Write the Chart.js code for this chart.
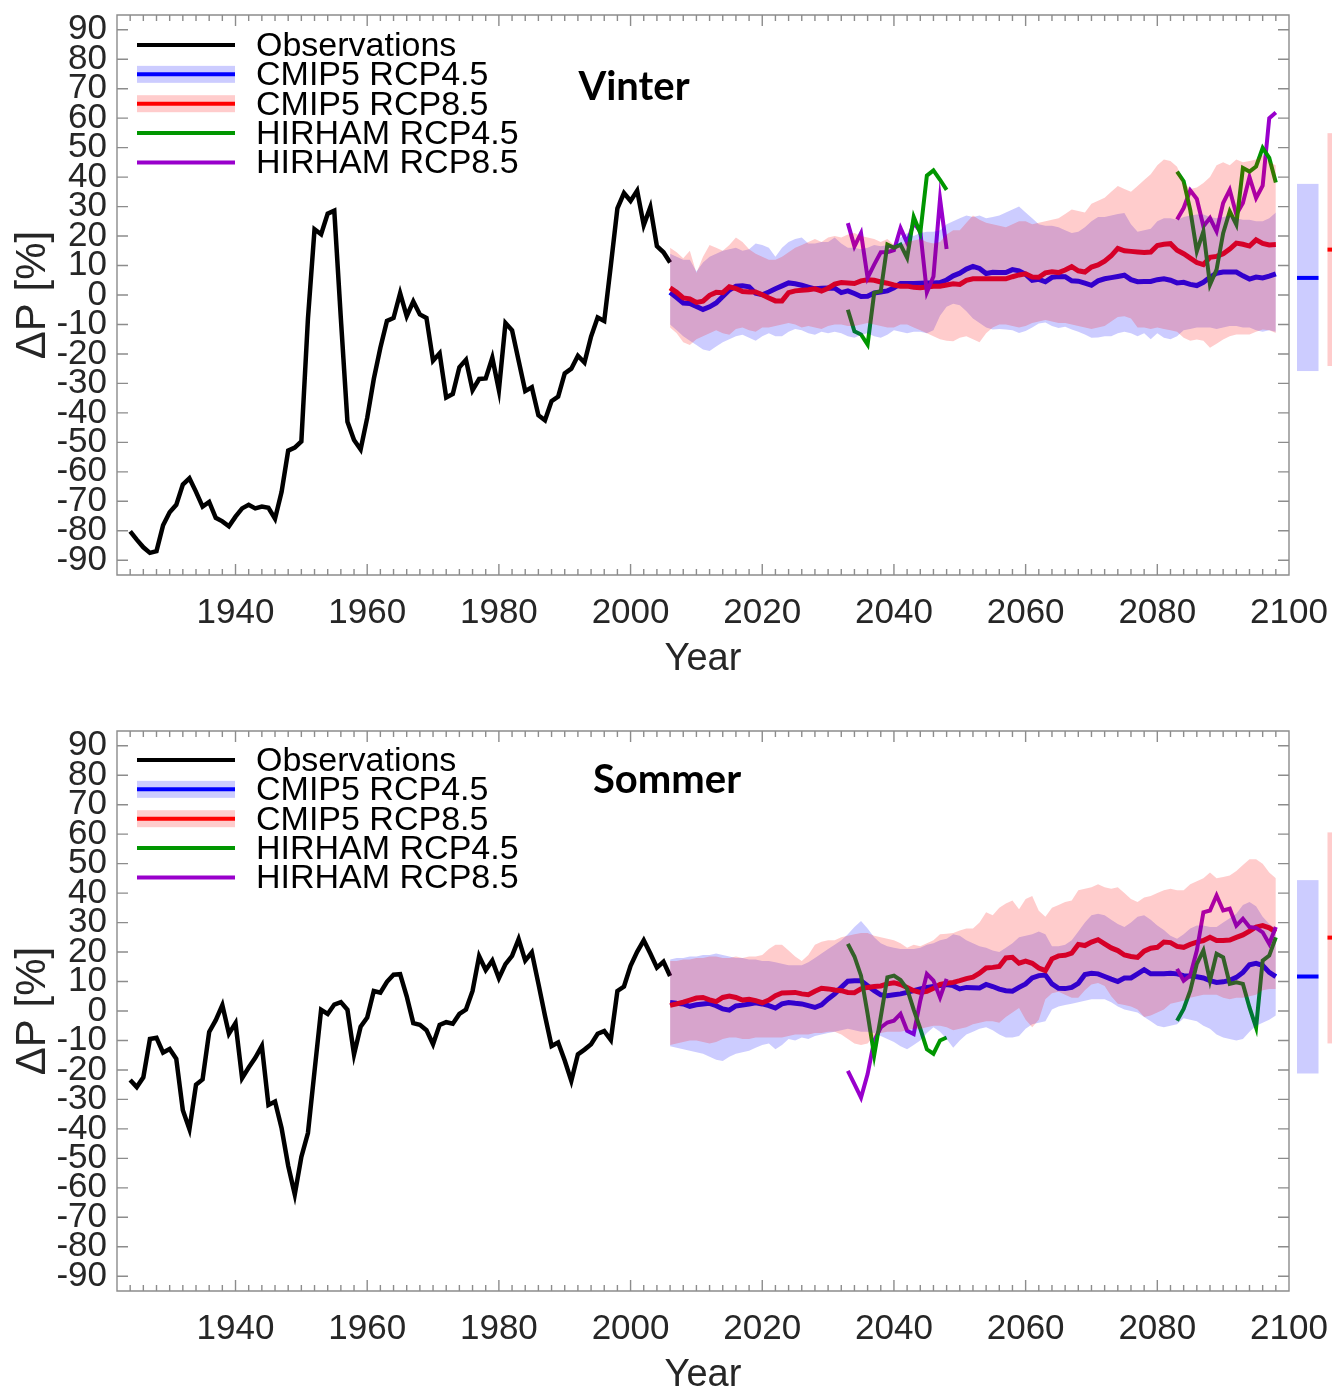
<!DOCTYPE html>
<html>
<head>
<meta charset="utf-8">
<script src="https://cdn.jsdelivr.net/npm/chart.js"></script>
<style>
html,body{margin:0;padding:0;background:#ffffff;}
#wrap{position:relative;width:1332px;height:1389px;overflow:hidden;}
.panel{position:absolute;left:0;width:1332px;height:695px;}
</style>
</head>
<body>
<div id="wrap">
  <div class="panel" style="top:0px"><canvas id="cVinter" width="1332" height="695"></canvas></div>
  <div class="panel" style="top:716px"><canvas id="cSommer" width="1332" height="695"></canvas></div>
</div>
<script>
// ---------- categories / ticks ----------
const OBS_START = 1924;     // observations: 1924..2006
const PROJ_START = 2006;    // CMIP5 ensemble: 2006..2098
const HIR_A_START = 2033;   // HIRHAM window 1: 2033..2048
const HIR_B_START = 2083;   // HIRHAM window 2: 2083..2098
const X_TICKS = [1940, 1960, 1980, 2000, 2020, 2040, 2060, 2080, 2100];
const Y_TICKS = [-90, -80, -70, -60, -50, -40, -30, -20, -10, 0, 10, 20, 30, 40, 50, 60, 70, 80, 90];
const LEGEND_LABELS = ['Observations', 'CMIP5 RCP4.5', 'CMIP5 RCP8.5', 'HIRHAM RCP4.5', 'HIRHAM RCP8.5'];
const Y_TITLE = 'ΔP [%]';
const X_TITLE = 'Year';

// ---------- Vinter ----------
const VIN_OBS = [-80.2,-83,-85.6,-87.5,-86.9,-78.1,-73.7,-71.2,-64.3,-62.2,
 -66.8,-71.8,-70.2,-75.6,-76.8,-78.5,-75.2,-72.4,-71.2,-72.4,
 -71.8,-72.2,-75.9,-66.8,-52.8,-51.8,-49.7,-8,22.3,20.6,
 27.6,28.6,-8,-43,-49.2,-52.4,-41.7,-28.5,-17.9,-8.8,
 -7.8,0.6,-7.2,-2.2,-6.6,-7.8,-22.3,-19.8,-34.8,-33.6,
 -24.5,-22,-32.3,-28.5,-28.3,-21.3,-32.3,-9.5,-12,-22.3,
 -32.6,-31.3,-40.8,-42.5,-36,-34.5,-26.6,-25,-20.6,-22.9,
 -14.1,-7.6,-8.8,10,29.4,34.6,31.9,35.4,23.7,29.8,
 16.6,14.5,11];
const VIN_M45 = [0.9,-0.9,-2.7,-2.9,-3.9,-4.9,-4.0,-2.7,-0.5,1.7,
 3.0,3.1,2.8,0.6,0.1,1.0,2.1,3.1,4.1,3.8,
 3.3,2.7,2.1,2.3,2.4,2.3,0.8,1.4,0.5,-0.5,
 -0.4,0.7,1.0,1.4,2.4,3.9,3.9,3.9,4.0,4.1,
 4.1,4.2,5.1,6.5,7.4,8.8,9.7,9.0,7.3,7.7,
 7.6,7.6,8.6,8.2,7.0,5.0,5.3,4.5,6.0,6.3,
 6.2,4.8,4.7,4.0,3.3,4.8,5.5,5.9,6.3,6.7,
 5.2,4.5,4.6,4.6,5.2,5.5,5.0,4.1,4.3,3.6,
 3.2,4.3,6.0,7.4,7.8,7.8,7.8,6.5,5.4,6.1,
 5.8,6.4,7.2];
const VIN_M85 = [2.4,0.9,-1.0,-1.3,-2.5,-2.1,-0.1,0.9,0.8,2.8,
 2.2,1.2,1.0,1.0,0.1,-1.0,-2.0,-2.0,0.8,1.4,
 1.6,1.8,2.1,1.3,2.3,3.7,4.2,4.1,3.9,4.8,
 5.2,5.0,4.4,4.0,3.4,3.0,3.0,2.6,2.5,2.7,
 3.0,3.0,3.4,3.8,3.6,5.0,5.5,5.5,5.5,5.5,
 5.5,5.5,6.2,6.8,7.2,6.1,6.0,7.5,7.9,7.6,
 8.5,9.6,8.2,7.8,9.5,10.2,11.5,13.3,15.8,15.0,
 14.8,14.6,14.4,14.6,16.8,17.2,17.4,15.2,14.0,12.5,
 11.0,10.3,12.8,13.1,14.0,15.6,17.6,17.2,16.6,18.7,
 17.5,17.0,17.1];
const VIN_HI45 = [14,13,12,12,8,11,13,14,15,15.5,
 16,15,15.5,17.5,17,16,13,16,18,19,
 19.5,17.5,17.5,18,18,19.5,17.5,16,16,15.5,
 16,17,16.5,17,17,19.5,21,20,21,21.5,
 21.5,22,24,25,26,27,26.5,27,26,26.5,
 27,28,29,30,28,26,24,23.5,23.5,23,
 22,21,21.5,23,25,26.5,26.5,27,27.5,27.8,
 24,21.5,22,22.5,25,26,26,25.5,26.5,27,
 27.3,27.3,26.5,26,26.5,27,26,25.5,25.5,25,
 25,26,28];
const VIN_LO45 = [-10,-12,-14,-15.5,-17,-18.5,-19,-17.5,-16,-15,
 -14,-13.5,-14.5,-15.5,-14,-13,-14,-14,-12.5,-11.5,
 -12,-13,-13.5,-12.5,-13,-12.5,-13,-14,-14.5,-13.5,
 -13,-14,-14.5,-13.5,-12,-12.5,-13,-12.5,-12.5,-13,
 -12,-7,-4,-3,-3.5,-5.5,-8,-9.5,-11,-11.7,
 -11.5,-11.7,-12,-12.9,-12.2,-11,-9.7,-9.3,-10.5,-11.2,
 -10.8,-11.7,-12.5,-13.4,-14.5,-14.4,-14,-14,-13,-12.5,
 -13,-14,-13,-15,-13,-14.5,-15,-14,-12,-11.5,
 -11,-11,-11,-11.5,-11,-10.5,-10.5,-11,-11,-12,
 -12.5,-12,-12.5];
const VIN_HI85 = [16,14.5,12.5,15,7.5,13,17,16,15,17,
 19.5,18,15.5,14,13,12,12,13,14.5,16,
 17,18,19,18,19.5,20,19.5,20.5,21,20,
 19.5,19,18,19,17,17,18,18.5,19,18,
 17.5,18,20.5,22,22,24.5,27,25.5,24.5,24,
 23.5,23,24,25,25,24,24.5,25,25.5,26,
 27.5,29,28.5,28,31,32,33,35,37,36,
 35,37,39,41,44,46,45.5,43.5,38,36,
 36.5,38,40,44,45,44,46,45,45.5,46,
 47.5,45,44];
const VIN_LO85 = [-11,-13,-16,-17,-15,-14,-13,-12,-13,-13.5,
 -11.5,-11,-12,-12.5,-11,-11,-10.5,-10,-9.5,-10,
 -11,-10.5,-11,-11.5,-10.5,-10,-10,-10.5,-10.5,-10,
 -9.5,-10,-10.5,-11,-11,-10,-10,-11,-12,-13,
 -14,-15,-15.5,-15.7,-14.5,-14,-15,-16,-13,-11,
 -10,-10,-10.5,-11,-10.5,-9.5,-9,-8.5,-9,-9.5,
 -9.5,-10,-10.5,-11,-11.5,-11,-10.5,-9,-7.5,-7.2,
 -8,-11,-11,-11.5,-11,-11.5,-12,-12.5,-14.5,-15.5,
 -15.1,-15.5,-17.9,-16.5,-15.1,-14,-13.4,-13.4,-13.4,-12.5,
 -11.7,-12,-12.9];
const VIN_H45_A = [-5,-12.3,-13.4,-16.8,0.7,1.3,17.1,16,17.1,12.6,26.5,21,40.5,42.3,39.1,35.7];
const VIN_H85_A = [24.4,16.5,21,5.8,10.3,14.5,14.5,15.2,22.7,17.7,24.4,21.6,0.9,6.3,32.6,15.6];
const VIN_H45_B = [41.9,38.6,28.9,14.8,21.6,3.5,8.6,21,28.4,23.9,43.1,41.9,43.6,49.9,46.5,38.2];
const VIN_H85_B = [25.6,29.5,35.5,32.6,23.3,26.1,21.6,31.2,35.7,27.3,31.2,40,32.9,37.1,60,61.9];
const VIN_BAR45 = [-25.8, 5.8, 37.7];   // low, median, high
const VIN_BAR85 = [-24.1, 15.4, 54.9];

// ---------- Sommer ----------
const SOM_OBS = [-23.4,-25.8,-22.5,-9.5,-9.1,-14.1,-12.9,-16.2,-33.7,-40.1,
 -25,-23.2,-7.1,-3.1,2,-7.7,-4.1,-22.8,-19.2,-15.9,
 -11.9,-31.9,-30.7,-39.8,-52.5,-62.2,-49.5,-41.4,-20.4,0.4,
 -1,2.2,3,0.4,-14.7,-5.3,-2.2,6.8,6.2,9.9,
 12.3,12.5,5,-4.1,-4.7,-6.5,-11.3,-4.7,-3.8,-4.3,
 -1,0.5,6.8,18.6,13.9,17.1,11.1,15.9,18.7,24.4,
 17.1,19.9,9.3,-1.6,-11.9,-10.7,-16.8,-23.7,-14.7,-13.1,
 -11.3,-7.7,-6.8,-9.8,6.8,8.3,15.3,20.1,24,19.5,
 14.7,16.7,11.9];
const SOM_M45 = [2.9,2.6,2.4,1.6,2.1,2.4,2.6,1.8,0.7,0.3,
 1.7,2.0,2.4,2.8,2.4,1.8,1.0,2.4,2.9,2.6,
 2.4,1.8,1.2,2.1,4.1,5.8,8.0,10.1,10.3,10.3,
 8.6,6.9,5.5,5.2,5.5,5.8,6.3,6.9,7.5,8.0,
 8.3,8.6,9.0,8.6,7.5,8.0,7.9,7.8,9.0,8.3,
 7.4,6.9,6.7,8.0,9.2,11.2,12.0,12.2,9.2,7.7,
 7.6,8.0,9.4,12.4,12.8,12.6,11.7,10.8,10.0,11.2,
 11.2,12.6,14.0,12.6,12.6,12.6,12.8,12.6,12.0,11.9,
 11.6,11.2,10.3,9.7,9.9,10.4,11.4,13.1,15.7,16.2,
 15.5,13.1,11.7];
const SOM_M85 = [1.9,2.4,3.0,3.7,4.4,4.6,3.8,3.2,4.6,5.1,
 4.6,3.7,4.0,3.5,2.8,3.7,5.2,6.1,6.2,6.3,
 5.8,5.5,6.7,7.7,7.5,7.1,6.9,6.3,6.2,7.5,
 8.0,8.3,8.5,9.2,9.6,9.0,8.0,6.9,6.3,6.7,
 7.7,9.0,9.4,9.7,10.3,11.0,11.5,12.8,14.6,14.8,
 15.1,18.0,18.2,16.2,16.9,16.2,14.6,13.7,17.7,18.7,
 18.9,19.6,22.6,22.2,23.4,24.2,22.8,21.4,20.5,19.0,
 18.5,18.2,20.3,21.3,21.6,23.4,23.2,21.9,21.6,22.6,
 23.4,23.9,25.0,23.9,23.9,24.1,25.0,25.8,27.1,28.5,
 29.0,28.2,26.8];
const SOM_HI45 = [17.5,18,18,18.5,18.5,19,19,19.5,19,18.5,
 18,18,17.5,17.5,17,17,16.5,16,15.5,15.5,
 15.5,16.5,18,19.5,21,22.5,24,26,28.5,30.5,
 28,25,23,22,21.5,21,21,21,21.5,22.5,
 23,24,24.5,26,25.5,24,23,22,21.5,20.5,
 20,21.5,23,25,25.5,26,27,26,22,22,
 22.5,24,27,30,32.5,33,32.5,31,29.5,28.5,
 30,32,32.5,31,29,27.5,25.5,24.5,26,28,
 29,29,28.5,28.5,30,31.5,33,36,37,35.5,
 32,29.5,28];
const SOM_LO45 = [-12,-12.5,-13,-13.5,-14,-14.5,-15.5,-16.5,-17,-15.5,
 -14.5,-14,-13.5,-12.5,-11.5,-11,-13,-11.5,-9.5,-10,
 -9,-9.5,-8.5,-8,-7.5,-7,-6.5,-6,-6.5,-7,
 -7,-7.5,-8.5,-9.5,-10.5,-12,-13,-11.5,-10,-7.5,
 -5.5,-7,-9.5,-12.5,-10,-8,-7,-6,-5.5,-6.5,
 -8,-9,-9,-8.5,-6,-4.5,-4,-3.5,0.5,1.5,
 2,2.5,3,3.5,4,4,4,3,1.5,0.5,
 0,-0.5,-2,-3.5,-5,-5.5,-5,-4.5,-2.5,-3,
 -3.5,-5,-6,-8,-9,-9.5,-10,-9.5,-7,-5,
 -4,-3,-1.5];
const SOM_HI85 = [17,17,17.5,17.5,18,18,18.5,18.5,18,18,
 18.5,18,18.5,18.5,19,21,22.5,22.5,20.5,18.5,
 17,19,22.5,23.5,24,24,25,25.5,26,26.5,
 26.5,25.5,25,24.5,24,23,21.5,22.5,22,23,
 24,26,26.2,26.5,27.3,28,28,30,33.5,32.5,
 35,36.5,37.5,34.5,38,39,34,32,35,36,
 37,37.5,41,41.5,42,43,42,41.5,42,40,
 38,37,38.5,39,40,41,41.5,41,41,43,
 44,45,47,45,45.5,46,47.5,49.5,51.5,51.5,
 50,47,45];
const SOM_LO85 = [-11.5,-11,-10.5,-10,-10,-10.5,-11,-10.5,-9.5,-9,
 -9,-9.5,-9.5,-9,-9,-9,-9,-9,-8.5,-8,
 -8,-8,-7.5,-7.5,-7,-7,-8,-9.5,-11,-11.5,
 -11,-8.5,-7.5,-7,-7,-7,-6.5,-6,-6,-5.5,
 -5,-5,-5.5,-6.5,-6,-5.5,-4.5,-4,-3.5,-3.5,
 -4,-2,-0.5,1,-3,-5.5,-3,4,6,6.5,
 5.5,4.5,4.5,7,9,9.5,8.5,5,2.5,2,
 1.5,0.5,-2,-1.5,-0.5,0.5,2.5,3,3.5,4.5,
 5,5.5,5.5,5.5,4.5,4,4.5,4.5,5,5.5,
 7,7.5,7.5];
const SOM_H45_A = [22.8,18.5,12,-1,-15,-2,11.4,12,10.5,7.5,0.5,-6,-13,-14.5,-10,-9];
const SOM_H85_A = [-20.3,-24.8,-29.4,-21.4,-10.1,-5.6,-3.9,-3.3,-1,-6.7,-7.8,3.5,12.6,10.3,4.6,10.9];
const SOM_H45_B = [-3.3,0.7,6.9,16,20.5,10.3,19.4,18.2,9.2,9.7,9.2,1.2,-5.6,17.1,18.8,25];
const SOM_H85_B = [14.3,10.3,12,20.5,33.5,34.1,39.2,34.1,34.7,29,31.3,28.5,28.2,26.7,22.8,28.5];
const SOM_BAR45 = [-21.2, 11.7, 44.4];
const SOM_BAR85 = [-11, 24.9, 60.6];

// ---------- styles ----------
const C_OBS = '#000000', C_45 = '#0000ff', C_85 = '#ff0000', C_H45 = '#009600', C_H85 = '#9900cc';
const BAND_45 = 'rgba(0,0,255,0.2)', BAND_85 = 'rgba(255,0,0,0.2)';
const BAR_FILL_45 = '#ccccff', BAR_FILL_85 = '#ffcccc';
const AXIS_COLOR = '#8c8c8c', TEXT_COLOR = '#262626';
const FONT = 'Liberation Sans';

Chart.defaults.font.family = FONT;

const decorPlugin = {
  id: 'decor',
  afterDatasetsDraw(chart, args, o) {
    const {ctx, chartArea: a, scales: {x, y}} = chart;
    ctx.save();
    // box + inward ticks
    ctx.strokeStyle = AXIS_COLOR;
    ctx.lineWidth = 1.4;
    ctx.beginPath();
    ctx.rect(a.left, a.top, a.right - a.left, a.bottom - a.top);
    const MAJ = 11, MIN = 6;
    for (let v = OBS_START; v < x.max; v += 2) {
      const p = x.getPixelForValue(v);
      const len = X_TICKS.includes(v) ? MAJ : MIN;
      ctx.moveTo(p, a.bottom); ctx.lineTo(p, a.bottom - len);
      ctx.moveTo(p, a.top); ctx.lineTo(p, a.top + len);
    }
    for (const v of X_TICKS) {
      const p = x.getPixelForValue(v);
      ctx.moveTo(p, a.bottom); ctx.lineTo(p, a.bottom - MAJ);
      ctx.moveTo(p, a.top); ctx.lineTo(p, a.top + MAJ);
    }
    for (const v of Y_TICKS) {
      const p = y.getPixelForValue(v);
      ctx.moveTo(a.left, p); ctx.lineTo(a.left + MAJ, p);
      ctx.moveTo(a.right, p); ctx.lineTo(a.right - MAJ, p);
    }
    ctx.stroke();

    // side range bars (outside plot area)
    const bars = [[o.bar45, BAR_FILL_45, C_45, 8], [o.bar85, BAR_FILL_85, C_85, 38.5]];
    for (const [b, fill, med, dx] of bars) {
      const yLo = y.getPixelForValue(b[0]), yMed = y.getPixelForValue(b[1]), yHi = y.getPixelForValue(b[2]);
      ctx.fillStyle = fill;
      ctx.fillRect(a.right + dx, yHi, 21.5, yLo - yHi);
      ctx.fillStyle = med;
      ctx.fillRect(a.right + dx, yMed - 2, 21.5, 4);
    }

    // legend
    const colors = [C_OBS, C_45, C_85, C_H45, C_H85];
    const bands = [null, BAND_45, BAND_85, null, null];
    const x1 = a.left + 20, x2 = a.left + 118;
    ctx.font = '34px "' + FONT + '"';
    ctx.textBaseline = 'middle';
    ctx.textAlign = 'left';
    LEGEND_LABELS.forEach((lab, i) => {
      const ly = o.legendY + i * 29.35;
      if (bands[i]) { ctx.fillStyle = bands[i]; ctx.fillRect(x1, ly - 8.5, x2 - x1, 17); }
      ctx.strokeStyle = colors[i];
      ctx.lineWidth = 4;
      ctx.beginPath(); ctx.moveTo(x1, ly); ctx.lineTo(x2, ly); ctx.stroke();
      ctx.fillStyle = '#000000';
      ctx.fillText(lab, a.left + 139, ly + 1.5);
    });

    // season title
    ctx.font = 'bold 40px Lato';
    ctx.textAlign = 'center';
    ctx.fillStyle = '#000000';
    ctx.fillText(o.title, o.titleX, o.titleY);
    ctx.restore();
  }
};

function noPad(s) { s.paddingTop = 0; s.paddingBottom = 0; s.paddingLeft = 0; s.paddingRight = 0; }

function buildChart(id, d) {
  const pts = (start, arr) => arr.map((v, i) => ({x: start + i, y: v}));
  const line = (label, data, color, width) => ({
    label, data, borderColor: color, borderWidth: width, pointRadius: 0,
    fill: false, tension: 0, order: 3, borderJoinStyle: 'miter'
  });
  const edge = (label, data, fill, bg, order) => ({
    label, data, borderColor: 'rgba(0,0,0,0)', borderWidth: 0, pointRadius: 0,
    fill: fill, backgroundColor: bg, tension: 0, order
  });
  const datasets = [
    line('Observations', pts(OBS_START, d.obs), C_OBS, 4.5),
    line('HIRHAM RCP4.5', pts(HIR_A_START, d.h45a), C_H45, 4),
    line('HIRHAM RCP4.5 ', pts(HIR_B_START, d.h45b), C_H45, 4),
    line('HIRHAM RCP8.5', pts(HIR_A_START, d.h85a), C_H85, 4),
    line('HIRHAM RCP8.5 ', pts(HIR_B_START, d.h85b), C_H85, 4),
    line('CMIP5 RCP8.5', pts(PROJ_START, d.m85), C_85, 5),
    line('CMIP5 RCP4.5', pts(PROJ_START, d.m45), C_45, 5),
    edge('RCP4.5 low', pts(PROJ_START, d.lo45), false, 'rgba(0,0,0,0)', 2),
    edge('RCP4.5 high', pts(PROJ_START, d.hi45), '-1', BAND_45, 2),
    edge('RCP8.5 low', pts(PROJ_START, d.lo85), false, 'rgba(0,0,0,0)', 1),
    edge('RCP8.5 high', pts(PROJ_START, d.hi85), '-1', BAND_85, 1)
  ];
  const tickFont = {family: FONT, size: 35};
  return new Chart(document.getElementById(id), {
    type: 'line',
    data: {datasets},
    options: {
      responsive: false, animation: false, devicePixelRatio: 1,
      layout: {padding: {top: 15, right: 43, left: 0, bottom: 0}, autoPadding: false},
      plugins: {
        legend: {display: false}, tooltip: {enabled: false},
        decor: {title: d.title, titleX: d.titleX, titleY: d.titleY, legendY: d.legendY, bar45: d.bar45, bar85: d.bar85}
      },
      scales: {
        x: {
          type: 'linear', min: 1922, max: 2100,
          afterBuildTicks: s => { s.ticks = X_TICKS.map(v => ({value: v})); },
          afterFit: s => { s.height = 120; noPad(s); },
          grid: {display: false, drawTicks: false}, border: {display: false},
          ticks: {font: tickFont, color: TEXT_COLOR, padding: 17, maxRotation: 0, autoSkip: false, callback: v => String(v)},
          title: {display: true, text: X_TITLE, font: {family: FONT, size: 38}, color: TEXT_COLOR, padding: {top: 0, bottom: 13}}
        },
        y: {
          type: 'linear', min: -95, max: 95,
          afterBuildTicks: s => { s.ticks = Y_TICKS.map(v => ({value: v})); },
          afterFit: s => { s.width = 117; noPad(s); },
          grid: {display: false, drawTicks: false}, border: {display: false},
          ticks: {font: tickFont, color: TEXT_COLOR, padding: 10, autoSkip: false, callback: v => String(v)},
          title: {display: true, text: Y_TITLE, font: {family: FONT, size: 42}, color: TEXT_COLOR, padding: {top: 8, bottom: 0}}
        }
      }
    },
    plugins: [decorPlugin]
  });
}

buildChart('cVinter', {
  obs: VIN_OBS, m45: VIN_M45, m85: VIN_M85, hi45: VIN_HI45, lo45: VIN_LO45, hi85: VIN_HI85, lo85: VIN_LO85,
  h45a: VIN_H45_A, h85a: VIN_H85_A, h45b: VIN_H45_B, h85b: VIN_H85_B, bar45: VIN_BAR45, bar85: VIN_BAR85,
  title: 'Vinter', titleX: 634, titleY: 87, legendY: 45
});
buildChart('cSommer', {
  obs: SOM_OBS, m45: SOM_M45, m85: SOM_M85, hi45: SOM_HI45, lo45: SOM_LO45, hi85: SOM_HI85, lo85: SOM_LO85,
  h45a: SOM_H45_A, h85a: SOM_H85_A, h45b: SOM_H45_B, h85b: SOM_H85_B, bar45: SOM_BAR45, bar85: SOM_BAR85,
  title: 'Sommer', titleX: 667, titleY: 64, legendY: 44
});
</script>
</body>
</html>
